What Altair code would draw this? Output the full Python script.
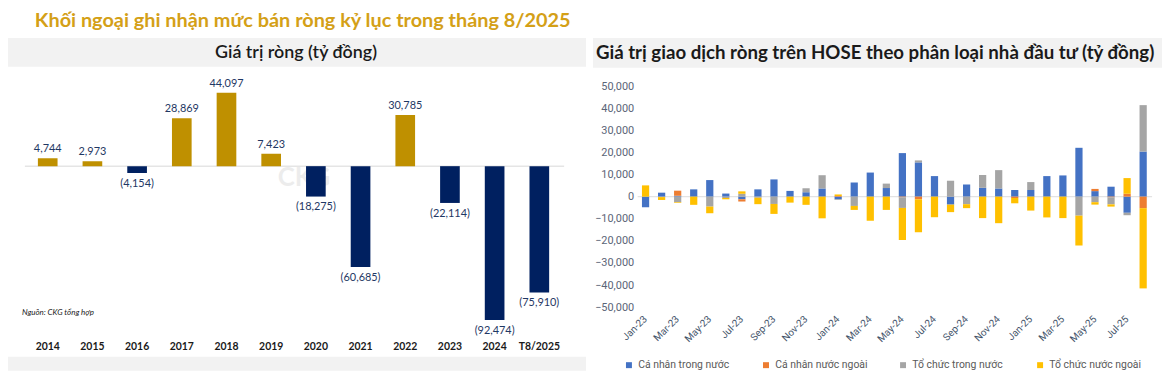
import altair as alt
import pandas as pd

# ---------------- texts ----------------
main_title = "Khối ngoại ghi nhận mức bán ròng kỷ lục trong tháng 8/2025"
left_header = "Giá trị ròng (tỷ đồng)"
right_header = "Giá trị giao dịch ròng trên HOSE theo phân loại nhà đầu tư (tỷ đồng)"
source_note = "Nguồn: CKG tổng hợp"
watermark = "CKG"

# ---------------- left chart data ----------------
years = ["2014", "2015", "2016", "2017", "2018", "2019", "2020", "2021",
         "2022", "2023", "2024", "T8/2025"]
net_values = [4744, 2973, -4154, 28869, 44097, 7423, -18275, -60685,
              30785, -22114, -92474, -75910]

# ---------------- right chart data ----------------
months = ["Jan-23", "Feb-23", "Mar-23", "Apr-23", "May-23", "Jun-23", "Jul-23", "Aug-23",
          "Sep-23", "Oct-23", "Nov-23", "Dec-23", "Jan-24", "Feb-24", "Mar-24", "Apr-24",
          "May-24", "Jun-24", "Jul-24", "Aug-24", "Sep-24", "Oct-24", "Nov-24", "Dec-24",
          "Jan-25", "Feb-25", "Mar-25", "Apr-25", "May-25", "Jun-25", "Jul-25", "Aug-25"]
series_names = ["Cá nhân trong nước", "Cá nhân nước ngoài",
                "Tổ chức trong nước", "Tổ chức nước ngoài"]
ca_nhan_trong_nuoc = [-4800, 1800, 400, 3300, 7500, 1400, -1200, 3300,
                      7800, 2600, 2000, 3700, -1200, 6400, 10900, 3900,
                      19700, 15500, 9300, -3600, 5500, 4000, 3700, 3000,
                      3000, 9300, 9600, 22100, 2500, 4500, -7300, 20400]
ca_nhan_nuoc_ngoai = [0, 0, 2300, 0, 0, 0, -1000, 0,
                      0, 0, 0, 0, 300, 0, 0, 0,
                      -300, -1200, 0, 0, 0, 0, 0, -600,
                      0, 0, 0, 0, 1000, -300, 1300, -5200]
to_chuc_trong_nuoc = [0, -200, -2500, 0, -4500, -600, 1300, -500,
                      -3300, 0, 1800, 6000, -300, -4200, 0, 2000,
                      -4800, 900, 0, 7200, -3400, 5800, 8300, 0,
                      3600, 0, 0, -8600, -2500, -3200, -1100, 21000]
to_chuc_nuoc_ngoai = [5100, -1300, -300, -3700, -3000, -600, 1100, -2900,
                      -4500, -2700, -3700, -9800, 700, -1800, -10900, -6000,
                      -14500, -14900, -9300, -3400, -1800, -9700, -12000, -2400,
                      -6300, -9400, -9700, -13500, -1100, -1000, 7100, -36300]
series_colors = ["#4472C4", "#ED7D31", "#A5A5A5", "#FFC000"]
y_ticks = [50000, 40000, 30000, 20000, 10000, 0, -10000, -20000, -30000, -40000, -50000]

LW, RW, GAP, H = 582, 573, 7, 364   # panel sizes (page coords - 8)

# ---------------- tables ----------------
left_df = pd.DataFrame({"year": years, "value": net_values})
left_df["label"] = [f"{v:,}" if v >= 0 else f"({-v:,})" for v in net_values]
left_df["color"] = ["#BF9000" if v >= 0 else "#002060" for v in net_values]
left_df["sign"] = ["pos" if v >= 0 else "neg" for v in net_values]
left_df["base"] = 0

rows = []
for i, (name, vals) in enumerate(zip(series_names, [ca_nhan_trong_nuoc, ca_nhan_nuoc_ngoai,
                                                    to_chuc_trong_nuoc, to_chuc_nuoc_ngoai])):
    for m, v in zip(months, vals):
        rows.append({"month": m, "series": name, "idx": i, "value": v})
right_df = pd.DataFrame(rows)

one = pd.DataFrame({"k": [0]})
zero_df = pd.DataFrame({"value": [0]})


def txt(t, **kw):
    return alt.Chart(pd.DataFrame({"t": [t]})).mark_text(**kw)


# ---------------- left panel ----------------
band_left = alt.Chart(one).mark_rect(color="#F2F2F2").encode(
    x=alt.value(0), x2=alt.value(LW), y=alt.value(29), y2=alt.value(58))
band_bottom = alt.Chart(one).mark_rect(color="#F2F2F2").encode(
    x=alt.value(0), x2=alt.value(LW), y=alt.value(350), y2=alt.value(H))
title_txt = txt(main_title, align="left", baseline="middle", font="Lato", fontSize=20,
                fontWeight="bold", color="#D4A017").encode(x=alt.value(27), y=alt.value(12), text="t:N")
lh_txt = txt(left_header, align="center", baseline="middle", font="Lato", fontSize=18,
             fontWeight=600, color="#1a1a1a").encode(x=alt.value(290), y=alt.value(44), text="t:N")
src_txt = txt(source_note, align="left", baseline="middle", font="Lato", fontSize=8,
              fontStyle="italic", color="#1a1a1a").encode(x=alt.value(14), y=alt.value(306), text="t:N")
wm_txt = txt(watermark, align="center", baseline="middle", font="Lato", fontSize=26,
             fontWeight="bold", color="#000000", opacity=0.07).encode(
    x=alt.value(298), y=alt.value(170), text="t:N")

yL_scale = alt.Scale(domain=[-100000, 60000], range=[325.5, 57.5], nice=False, zero=False)
xL = alt.X("year:N", sort=years,
           scale=alt.Scale(domain=years, range=[17.5, 557.5], paddingInner=0.56, paddingOuter=0.28),
           axis=alt.Axis(orient="bottom", title=None, labelFont="Lato", labelFontWeight="bold",
                         labelFontSize=10.5, labelColor="#1a1a1a", domain=False, ticks=False,
                         tickSize=0, labelPadding=2, labelAngle=0, offset=-31))
yL = alt.Y("value:Q", scale=yL_scale, axis=None)

left_zero = alt.Chart(zero_df).mark_rule(color="#D9D9D9", strokeWidth=1).encode(
    x=alt.value(17), x2=alt.value(560), y=yL)
left_base = alt.Chart(left_df)
left_bars = left_base.mark_bar().encode(x=xL, y=yL, y2="base:Q",
                                        color=alt.Color("color:N", scale=None))
left_pos = left_base.transform_filter(alt.datum.sign == "pos").mark_text(
    baseline="bottom", dy=-4, font="Lato", fontSize=11, color="#1F3864").encode(
    x=xL, y=yL, text="label:N")
left_neg = left_base.transform_filter(alt.datum.sign == "neg").mark_text(
    baseline="top", dy=5, font="Lato", fontSize=11, color="#1F3864").encode(
    x=xL, y=yL, text="label:N")

left_panel = alt.layer(band_left, band_bottom, title_txt, lh_txt, src_txt, wm_txt,
                       left_zero, left_bars, left_pos, left_neg).properties(width=LW, height=H)

# ---------------- right panel ----------------
band_right = alt.Chart(one).mark_rect(color="#F2F2F2").encode(
    x=alt.value(0), x2=alt.value(RW), y=alt.value(29), y2=alt.value(59))
rh_txt = txt(right_header, align="left", baseline="middle", font="Lato", fontSize=18.8,
             fontWeight="bold", color="#1a1a1a").encode(
    x=alt.value(3), y=alt.value(44), text="t:N")

yR_scale = alt.Scale(domain=[-50000, 50000], range=[300, 77.4], nice=False)
yR_axis = alt.Axis(orient="left", title=None, values=y_ticks,
                   labelExpr="format(datum.value, ',')", grid=False,
                   domain=False, ticks=False, tickSize=0, labelPadding=3,
                   labelFont="Roboto", labelFontSize=11, labelColor="#5B6577", offset=-44)
xR = alt.X("month:N", sort=months,
           scale=alt.Scale(domain=months, range=[44.9, 562.1], paddingInner=0.55, paddingOuter=0.275),
           axis=alt.Axis(orient="bottom", title=None, values=months[::2], labelAngle=-45,
                         labelAlign="right", labelBaseline="middle", labelFont="Roboto",
                         labelFontSize=10, labelColor="#44546A", domain=False, ticks=False,
                         tickSize=0, labelPadding=4, offset=-58))
yR = alt.Y("value:Q", stack="zero", scale=yR_scale, axis=yR_axis)
right_zero = alt.Chart(zero_df).mark_rule(color="#E3E3E3", strokeWidth=1.2).encode(
    x=alt.value(45), x2=alt.value(563), y=alt.Y("value:Q", scale=yR_scale, axis=yR_axis))
right_bars = alt.Chart(right_df).mark_bar().encode(
    x=xR, y=yR,
    color=alt.Color("series:N", scale=alt.Scale(domain=series_names, range=series_colors),
                    legend=alt.Legend(orient="none", legendX=31, legendY=353, direction="horizontal",
                                      columns=4, title=None, symbolType="square", symbolSize=36,
                                      symbolStrokeWidth=0, labelFont="Roboto", labelFontSize=10.5,
                                      labelColor="#595959", columnPadding=30, gridAlign="all",
                                      padding=0, labelOffset=4)),
    order=alt.Order("idx:Q", sort="ascending"))

right_panel = alt.layer(band_right, rh_txt, right_zero, right_bars).properties(width=RW, height=H)

chart = alt.hconcat(left_panel, right_panel, spacing=GAP).resolve_scale(
    color="independent").resolve_legend(color="independent").properties(
    padding=0, bounds="flush", background="white"
).configure_view(stroke=None)

chart.save("out.html", embed_options={"renderer": "svg", "actions": False})
